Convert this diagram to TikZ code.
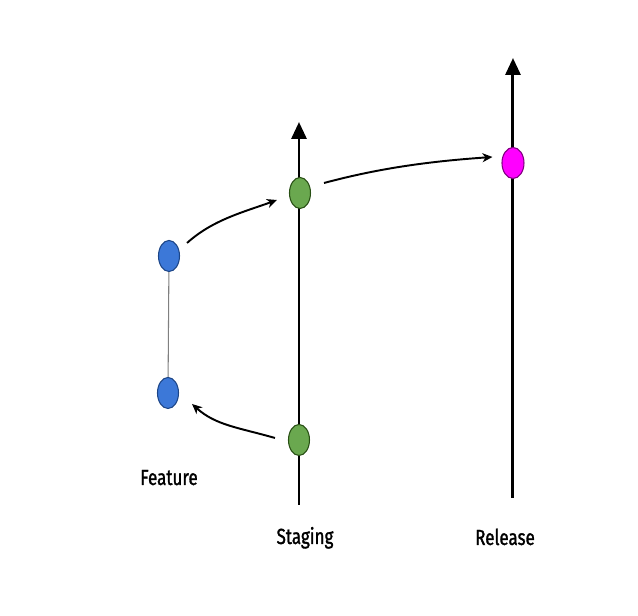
\documentclass[tikz,border=0pt]{standalone}
\usepackage{fontspec}
\setmainfont{Fira Sans}
\newfontfamily\lblfont{Fira Sans}[FakeBold=1.5]
\usetikzlibrary{arrows.meta,shapes.geometric}
\definecolor{gfill}{HTML}{6AA84F}
\definecolor{gline}{HTML}{274E13}
\definecolor{bfill}{HTML}{3C78D8}
\definecolor{bline}{HTML}{1C4587}
\definecolor{pfill}{HTML}{FF00FF}
\definecolor{pline}{HTML}{7F007F}
\newcommand{\cond}[1]{\scalebox{0.78}[1]{\lblfont #1}}
\begin{document}
\begin{tikzpicture}[x=0.01cm,y=0.01cm,
  commit/.style={ellipse,draw,line width=0.3pt,minimum width=0.21cm,minimum height=0.31cm,inner sep=0pt},
  gnode/.style={commit,fill=gfill,draw=gline},
  bnode/.style={commit,fill=bfill,draw=bline},
  pnode/.style={commit,fill=pfill,draw=pline,minimum width=0.22cm,minimum height=0.31cm},
  branch/.style={line width=0.85pt,-{Triangle[length=0.17cm,width=0.15cm]}},
  flow/.style={line width=0.55pt,-{Stealth[length=0.1cm,width=0.09cm,inset=0.03cm]}},
  lbl/.style={font=\fontsize{6.2}{7}\selectfont,anchor=base,inner sep=0pt},
]
\useasboundingbox[fill=white] (0,0) rectangle (638,616);
% branch lines
\coordinate (s0) at (299,111);
\coordinate (s1) at (299,494);
\coordinate (r0) at (513,118);
\coordinate (r1) at (513,558);
\draw[branch] (s0) -- (s1);
\draw[branch] (r0) -- (r1);
% commits
\node[gnode] (g1) at (300,423) {};
\node[gnode] (g2) at (299,176) {};
\node[pnode] (p) at (513,453) {};
\node[bnode] (b1) at (169,360) {};
\node[bnode] (b2) at (168,223) {};
\draw[line width=0.3pt,gray] (b1) -- (b2);
% flows
\draw[flow] ([shift={(7,13)}]b1.east) .. controls +(42:35) and +(200:35) .. ([shift={(-12,-7)}]g1.west);
\draw[flow] ([shift={(13,10)}]g1.east) .. controls +(15:60) and +(184:60) .. ([shift={(-9,6)}]p.west);
\draw[flow] ([shift={(-13,2)}]g2.west) .. controls +(164:38) and +(-42:32) .. ([shift={(13,-11)}]b2.east);
% labels
\node[lbl] (lf) at (169,131) {\cond{Feature}};
\node[lbl] (ls) at (305,72) {\cond{Staging}};
\node[lbl] (lr) at (505,71) {\cond{Release}};
\end{tikzpicture}
\end{document}
